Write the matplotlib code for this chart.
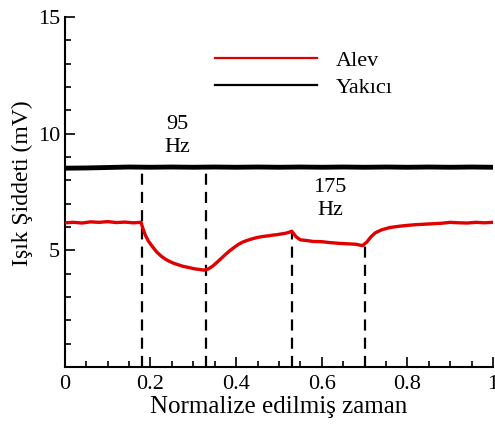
import matplotlib
matplotlib.use("Agg")
import matplotlib.pyplot as plt
from matplotlib.ticker import MultipleLocator, FixedLocator, FixedFormatter

plt.rcParams["font.family"] = ["Liberation Serif", "DejaVu Serif"]

# Flame (Alev) light intensity vs normalized time
alev_t = [0.00, 0.02, 0.04, 0.06, 0.08, 0.10, 0.12, 0.14, 0.16, 0.178,
          0.182, 0.188, 0.195, 0.205, 0.215, 0.225, 0.235, 0.245, 0.255, 0.265,
          0.275, 0.285, 0.295, 0.305, 0.315, 0.325, 0.335, 0.345, 0.355, 0.365,
          0.375, 0.385, 0.395, 0.405, 0.415, 0.425, 0.435, 0.445, 0.455, 0.465,
          0.475, 0.485, 0.495, 0.505, 0.515, 0.525, 0.530, 0.540, 0.550, 0.565,
          0.58, 0.60, 0.62, 0.64, 0.66, 0.68, 0.695, 0.705, 0.715, 0.725,
          0.74, 0.76, 0.78, 0.80, 0.82, 0.84, 0.86, 0.88, 0.90, 0.92,
          0.94, 0.96, 0.98, 1.00]
alev_v = [6.18, 6.20, 6.17, 6.22, 6.20, 6.23, 6.19, 6.21, 6.18, 6.20,
          5.95, 5.65, 5.40, 5.15, 4.92, 4.75, 4.62, 4.52, 4.44, 4.38,
          4.32, 4.28, 4.24, 4.20, 4.18, 4.15, 4.20, 4.32, 4.48, 4.65,
          4.82, 4.98, 5.12, 5.25, 5.35, 5.42, 5.48, 5.53, 5.57, 5.60,
          5.62, 5.65, 5.67, 5.70, 5.73, 5.78, 5.82, 5.58, 5.45, 5.42,
          5.38, 5.37, 5.33, 5.30, 5.28, 5.26, 5.20, 5.35, 5.58, 5.75,
          5.88, 5.98, 6.03, 6.07, 6.10, 6.12, 6.14, 6.16, 6.20, 6.18,
          6.17, 6.20, 6.18, 6.20]

# Burner (Yakıcı) light intensity
yakici_t = [0.00, 0.05, 0.10, 0.15, 0.20, 0.25, 0.30, 0.35, 0.40, 0.45,
            0.50, 0.55, 0.60, 0.65, 0.70, 0.75, 0.80, 0.85, 0.90, 0.95, 1.00]
yakici_v = [8.52, 8.53, 8.55, 8.57, 8.56, 8.57, 8.56, 8.57, 8.56, 8.57,
            8.56, 8.57, 8.56, 8.57, 8.56, 8.57, 8.56, 8.57, 8.56, 8.57, 8.56]

# Frequency-change markers: time and upper end of each dashed line
marker_t = [0.18, 0.33, 0.53, 0.70]
marker_top = [8.55, 8.55, 5.82, 5.20]

freq_labels = ["95\nHz", "175\nHz"]
freq_x = [0.262, 0.619]
freq_y = [9.9, 7.2]

xticks = [0, 0.2, 0.4, 0.6, 0.8, 1.0]
xtick_labels = ["0", "0.2", "0.4", "0.6", "0.8", "1"]
yticks = [5, 10, 15]
ytick_labels = ["5", "10", "15"]

fig = plt.figure(figsize=(4.95, 4.25), dpi=100)
ax = fig.add_axes([0.131, 0.1365, 0.865, 0.8235])

ax.plot(alev_t, alev_v, color="#e00000", lw=2.4, label="Alev", zorder=3)
ax.plot(yakici_t, yakici_v, color="black", lw=3.5, label="Yakıcı", zorder=3)

for t, top in zip(marker_t, marker_top):
    ax.vlines(t, 0, top, colors="black", linestyles=(0, (5, 3.2)), lw=1.6, zorder=2)

for lbl, x, y in zip(freq_labels, freq_x, freq_y):
    ax.text(x, y, lbl, ha="center", va="center", fontsize=16, linespacing=1.25)

ax.set_xlim(0, 1)
ax.set_ylim(0, 15)
ax.xaxis.set_major_locator(FixedLocator(xticks))
ax.xaxis.set_major_formatter(FixedFormatter(xtick_labels))
ax.xaxis.set_minor_locator(MultipleLocator(0.05))
ax.yaxis.set_major_locator(FixedLocator(yticks))
ax.yaxis.set_major_formatter(FixedFormatter(ytick_labels))
ax.yaxis.set_minor_locator(MultipleLocator(1))
ax.tick_params(which="both", direction="in", width=1.2, labelsize=16)
ax.tick_params(which="major", length=7)
ax.tick_params(which="minor", length=4)
ax.tick_params(axis="x", pad=6)

for side in ("top", "right"):
    ax.spines[side].set_visible(False)
for side in ("left", "bottom"):
    ax.spines[side].set_linewidth(1.5)

ax.set_xlabel("Normalize edilmiş zaman", fontsize=18, labelpad=1)
ax.set_ylabel("Işık Şiddeti (mV)", fontsize=17)
ax.yaxis.set_label_coords(-0.075, 0.525)

leg = ax.legend(loc="upper left", bbox_to_anchor=(0.303, 0.962), frameon=False,
                fontsize=16, handlelength=4.6, handletextpad=0.85, labelspacing=0.3)
for line in leg.get_lines():
    line.set_linewidth(1.6)

fig.savefig("out.png", dpi=100)
